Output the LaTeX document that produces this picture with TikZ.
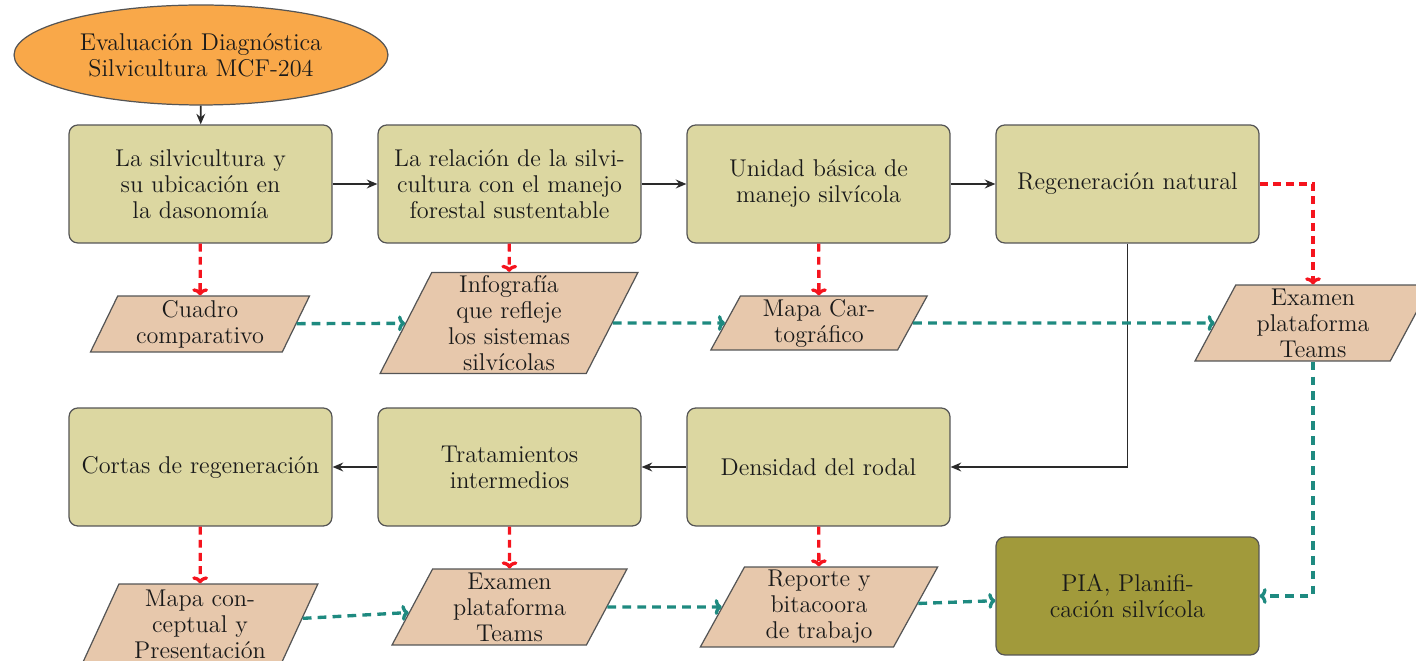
\documentclass[tikz,border=0pt]{standalone}
\usetikzlibrary{shapes.geometric,arrows.meta}
\definecolor{boxfill}{HTML}{DCD7A1}
\definecolor{parafill}{HTML}{E7C8AC}
\definecolor{ellfill}{HTML}{F9A849}
\definecolor{piafill}{HTML}{A19A3B}
\definecolor{bordergray}{HTML}{555555}
\definecolor{textgray}{HTML}{1A1A1A}
\definecolor{linegray}{HTML}{2A2A2A}
\definecolor{redline}{HTML}{F5141E}
\definecolor{tealline}{HTML}{1E8A80}
\begin{document}
\begin{tikzpicture}[x=0.02cm,y=-0.02cm,
  font=\fontsize{13.8}{14.8}\selectfont,
  box/.style={draw=bordergray, fill=boxfill, rounded corners=5pt, minimum width=5.26cm, minimum height=2.36cm, align=center, text=textgray, line width=0.7pt, inner sep=2pt},
  para/.style={trapezium, trapezium left angle=67, trapezium right angle=113, trapezium stretches=true, draw=bordergray, fill=parafill, align=center, inner sep=1pt, text=textgray, line width=0.7pt},
  solidarrow/.style={-{Stealth[length=6pt,width=5pt]}, line width=1pt, draw=linegray},
  redarrow/.style={-{To[length=4pt,width=9pt]}, draw=redline, line width=1.9pt, dash pattern=on 4.5pt off 3pt},
  tealarrow/.style={-{To[length=4pt,width=9pt]}, draw=tealline, line width=1.9pt, dash pattern=on 5pt off 3.5pt}]
\useasboundingbox (0,0) rectangle (1416,661);

\node[ellipse, draw=bordergray, fill=ellfill, minimum width=7.48cm, minimum height=2.0cm, align=center, text=textgray, line width=0.7pt] (ev) at (201,55) {Evaluación Diagnóstica\\Silvicultura MCF-204};

\node[box] (b1) at (200.5,184) {La silvicultura y\\su ubicación en\\la dasonomía};
\node[box] (b2) at (509.5,184) {La relación de la silvi-\\cultura con el manejo\\forestal sustentable};
\node[box] (b3) at (818.5,184) {Unidad básica de\\manejo silvícola};
\node[box] (b4) at (1127.5,184) {Regeneración natural};

\node[para, minimum width=4.4cm, minimum height=1.12cm] (p1) at (200,324) {Cuadro\\comparativo};
\node[para, minimum width=5.16cm, minimum height=2.02cm] (p2) at (509,323) {Infografía\\que refleje\\los sistemas\\silvícolas};
\node[para, minimum width=4.36cm, minimum height=1.08cm] (p3) at (819,323) {Mapa Car-\\tográfico};
\node[para, minimum width=4.72cm, minimum height=1.52cm] (p4) at (1313,323) {Examen\\plataforma\\Teams};

\node[box] (c1) at (200.5,467) {Cortas de regeneración};
\node[box] (c2) at (509.5,467) {Tratamientos\\intermedios};
\node[box] (c3) at (818.5,467) {Densidad del rodal};

\node[para, minimum width=4.72cm, minimum height=1.6cm] (q1) at (200,624) {Mapa con-\\ceptual y\\Presentación};
\node[para, minimum width=4.7cm, minimum height=1.52cm] (q2) at (509.5,607) {Examen\\plataforma\\Teams};
\node[para, minimum width=4.8cm, minimum height=1.6cm] (q3) at (819,607) {Reporte y\\bitacoora\\de trabajo};
\node[box, fill=piafill] (pia) at (1127.5,596) {PIA, Planifi-\\cación silvícola};

% solid flow
\draw[solidarrow] (ev) -- (b1);
\draw[solidarrow] (b1) -- (b2);
\draw[solidarrow] (b2) -- (b3);
\draw[solidarrow] (b3) -- (b4);
\draw[solidarrow] (b4.south) |- (c3.east);
\draw[solidarrow] (c3) -- (c2);
\draw[solidarrow] (c2) -- (c1);

% red dashed
\draw[redarrow] (b1) -- (p1);
\draw[redarrow] (b2) -- (p2);
\draw[redarrow] (b3) -- (p3);
\draw[redarrow] (b4.east) -| (p4.north);
\draw[redarrow] (c1) -- (q1);
\draw[redarrow] (c2) -- (q2);
\draw[redarrow] (c3) -- (q3);

% teal dashed
\draw[tealarrow] (p1) -- (p2);
\draw[tealarrow] (p2) -- (p3);
\draw[tealarrow] (p3) -- (p4);
\draw[tealarrow] (p4.south) |- (pia.east);
\draw[tealarrow] (q1) -- (q2);
\draw[tealarrow] (q2) -- (q3);
\draw[tealarrow] (q3) -- (pia);
\end{tikzpicture}
\end{document}
